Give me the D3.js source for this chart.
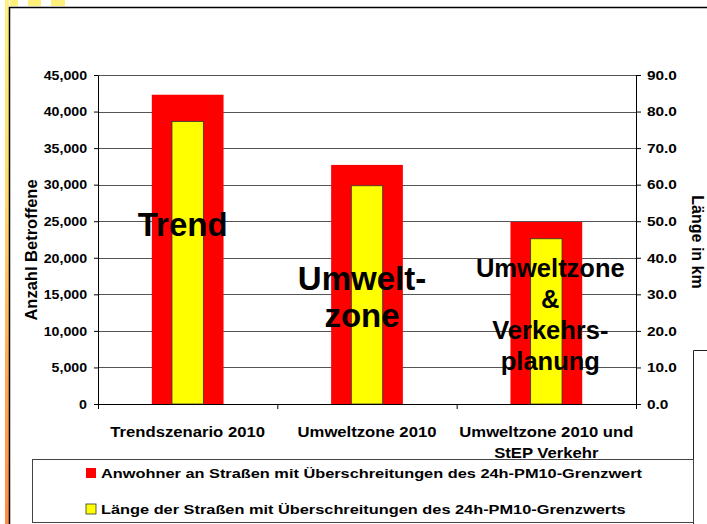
<!DOCTYPE html>
<html lang="de">
<head>
<meta charset="utf-8">
<title>PM10-Grenzwert: Anwohner und Straßenlänge</title>
<script src="https://cdn.jsdelivr.net/npm/d3@7"></script>
<style>
  html, body { margin: 0; padding: 0; background: #fff; }
  svg { display: block; font-family: "Liberation Sans", Arial, sans-serif; font-weight: bold; }
  .grid line { stroke: #555; stroke-width: 1; }
  .axis path, .axis line { stroke: #000; }
  .axis text { fill: #000; }
</style>
</head>
<body>
<div id="chart"></div>
<script>
// Szenarien (x-Kategorien), "\n" = Zeilenumbruch im Achsenlabel
const categories = ["Trendszenario 2010", "Umweltzone 2010", "Umweltzone 2010 und\nStEP Verkehr"];

// Anwohner an Straßen mit Überschreitungen (linke Achse)
const anwohner = [42300, 32700, 24900];

// Länge der Straßen mit Überschreitungen in km (rechte Achse)
const laengeKm = [77.3, 59.7, 45.2];

const leftTicks = [0, 5000, 10000, 15000, 20000, 25000, 30000, 35000, 40000, 45000];
const rightTicks = [0, 10, 20, 30, 40, 50, 60, 70, 80, 90];

// Beschriftungen, die über den Balken liegen
const barNotes = [["Trend"], ["Umwelt-", "zone"], ["Umweltzone", "&", "Verkehrs-", "planung"]];

const legendLabels = [
  "Anwohner an Straßen mit Überschreitungen des 24h-PM10-Grenzwert",
  "Länge der Straßen mit Überschreitungen des 24h-PM10-Grenzwerts",
];

const COLORS = { anwohner: "#ff0000", laenge: "#ffff00" };

const width = 707;
const height = 524;
const plot = { left: 98, right: 636, top: 75, bottom: 404 };

// Excel-Grafik war horizontal gestreckt, Schrift entsprechend breiter ziehen
function stretchText(sel, k) {
  sel.each(function () {
    const w = this.getComputedTextLength();
    this.setAttribute("textLength", w * k);
    this.setAttribute("lengthAdjust", "spacingAndGlyphs");
  });
}

const svg = d3.select("#chart").append("svg")
  .attr("width", width)
  .attr("height", height)
  .attr("viewBox", `0 0 ${width} ${height}`);

// --- Folienrahmen / Dekoration ---
const grad = svg.append("defs").append("linearGradient")
  .attr("id", "strip").attr("x1", 0).attr("y1", 0).attr("x2", 0).attr("y2", 1);
grad.append("stop").attr("offset", 0).attr("stop-color", "#fff07c");
grad.append("stop").attr("offset", 0.35).attr("stop-color", "#ffdc6c");
grad.append("stop").attr("offset", 0.75).attr("stop-color", "#ffa452");
grad.append("stop").attr("offset", 1).attr("stop-color", "#ff8a48");

svg.append("rect").attr("x", 5).attr("y", 0).attr("width", 4).attr("height", height).attr("fill", "url(#strip)");
[[10, 8], [28, 13], [51, 14]].forEach(([x, w]) => {
  svg.append("rect").attr("x", x).attr("y", 0).attr("width", w).attr("height", 6).attr("fill", "#fff07c");
});

svg.append("path")
  .attr("d", `M9.5,${height} V7.5 H${width}`)
  .attr("fill", "none").attr("stroke", "#000").attr("stroke-width", 1.5);

// --- Skalen ---
const x = d3.scaleBand().domain(categories).range([plot.left, plot.right]).padding(0);
const xEdges = d3.scaleLinear().domain([0, categories.length]).range([plot.left, plot.right]);
const yLeft = d3.scaleLinear().domain([0, 45000]).range([plot.bottom, plot.top]);
const yRight = d3.scaleLinear().domain([0, 90]).range([plot.bottom, plot.top]);

// Gitterlinien
svg.append("g").attr("class", "grid")
  .selectAll("line")
  .data(leftTicks.filter((d) => d > 0))
  .join("line")
  .attr("x1", plot.left).attr("x2", plot.right)
  .attr("y1", (d) => Math.round(yLeft(d)) + 0.5)
  .attr("y2", (d) => Math.round(yLeft(d)) + 0.5);

const rows = categories.map((c, i) => ({ category: c, anwohner: anwohner[i], laenge: laengeKm[i], notes: barNotes[i] }));

// Rote Balken (breit), gelbe Balken (schmal) darüber
const redW = x.bandwidth() * 0.4;
const yellowW = x.bandwidth() * 0.175;
const cx = (d) => x(d.category) + x.bandwidth() / 2;

svg.append("g").selectAll("rect")
  .data(rows)
  .join("rect")
  .attr("x", (d) => cx(d) - redW / 2)
  .attr("width", redW)
  .attr("y", (d) => yLeft(d.anwohner))
  .attr("height", (d) => plot.bottom - yLeft(d.anwohner))
  .attr("fill", COLORS.anwohner);

svg.append("g").selectAll("rect")
  .data(rows)
  .join("rect")
  .attr("x", (d) => cx(d) - yellowW / 2)
  .attr("width", yellowW)
  .attr("y", (d) => yRight(d.laenge))
  .attr("height", (d) => plot.bottom - yRight(d.laenge))
  .attr("fill", COLORS.laenge)
  .attr("stroke", "#333")
  .attr("stroke-width", 0.8);

// --- Achsen ---
const leftAxis = svg.append("g").attr("class", "axis")
  .attr("transform", `translate(${plot.left},0)`)
  .call(d3.axisLeft(yLeft).tickValues(leftTicks).tickSize(4).tickSizeOuter(0).tickPadding(7).tickFormat(d3.format(",")));

const rightAxis = svg.append("g").attr("class", "axis")
  .attr("transform", `translate(${plot.right},0)`)
  .call(d3.axisRight(yRight).tickValues(rightTicks).tickSize(5).tickSizeOuter(0).tickPadding(6).tickFormat(d3.format(".1f")));

svg.append("g").attr("class", "axis")
  .attr("transform", `translate(0,${plot.bottom})`)
  .call(d3.axisBottom(xEdges).tickValues(d3.range(categories.length + 1)).tickSize(5).tickSizeOuter(0).tickFormat(""));

[[leftAxis, 1.18], [rightAxis, 1.28]].forEach(([g, k]) => {
  g.attr("font-family", null).attr("font-size", null);
  g.selectAll("text").attr("font-size", 12).attr("dy", "0.36em");
  stretchText(g.selectAll("text"), k);
});

// Kategorienlabels
const catLabels = svg.append("g").selectAll("text")
  .data(rows)
  .join("text")
  .attr("text-anchor", "middle")
  .attr("font-size", 14)
  .attr("x", cx)
  .attr("y", 437);
catLabels.selectAll("tspan")
  .data((d) => d.category.split("\n").map((t) => ({ t, d })))
  .join("tspan")
  .attr("x", (p) => cx(p.d))
  .attr("dy", (p, i) => (i === 0 ? 0 : 21))
  .text((p) => p.t);
catLabels.selectAll("tspan").each(function () {
  stretchText(d3.select(this), 1.19);
});

// Achsentitel
svg.append("text")
  .attr("transform", "translate(37,250) rotate(-90)")
  .attr("text-anchor", "middle")
  .attr("font-size", 16.5)
  .text("Anzahl Betroffene");

svg.append("text")
  .attr("transform", "translate(692,242) rotate(90)")
  .attr("text-anchor", "middle")
  .attr("font-size", 16)
  .text("Länge in km");

// Beschriftungen über den Balken
const noteStyle = [
  { size: 33, dx: -5, y: 236, lh: 37 },
  { size: 33, dx: -5, y: 290, lh: 37 },
  { size: 25.5, dx: 4, y: 277, lh: 31 },
];
rows.forEach((d, i) => {
  const s = noteStyle[i];
  svg.append("text")
    .attr("text-anchor", "middle")
    .attr("font-size", s.size)
    .selectAll("tspan")
    .data(d.notes)
    .join("tspan")
    .attr("x", cx(d) + s.dx)
    .attr("y", (t, j) => s.y + j * s.lh)
    .text((t) => t);
});

// --- Legende ---
svg.append("path")
  .attr("d", `M${width},350.5 H693.5 V${height}`)
  .attr("fill", "none").attr("stroke", "#222").attr("stroke-width", 1);

const legend = svg.append("g");
legend.append("rect")
  .attr("x", 32.5).attr("y", 459.5).attr("width", 661).attr("height", 63)
  .attr("fill", "#fff").attr("stroke", "#444").attr("stroke-width", 1);

const legendItems = legend.selectAll("g.item")
  .data(legendLabels.map((label, i) => ({ label, color: i === 0 ? COLORS.anwohner : COLORS.laenge, i })))
  .join("g")
  .attr("class", "item")
  .attr("transform", (d) => `translate(86,${468 + d.i * 36})`);

legendItems.append("rect")
  .attr("width", 10).attr("height", 10)
  .attr("fill", (d) => d.color)
  .attr("stroke", (d) => (d.i === 0 ? "none" : "#333"))
  .attr("stroke-width", 0.8);

const legendText = legendItems.append("text")
  .attr("x", 15).attr("y", 10)
  .attr("font-size", 13.5)
  .text((d) => d.label);
stretchText(legendText, 1.21);
</script>
</body>
</html>
